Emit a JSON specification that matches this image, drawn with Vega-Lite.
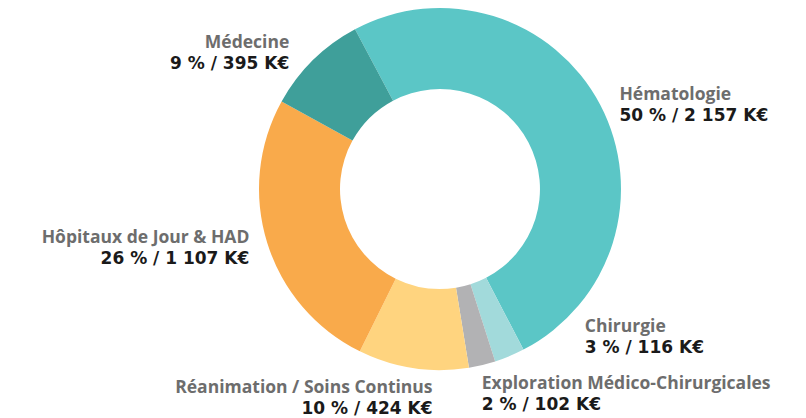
{
  "$schema": "https://vega.github.io/schema/vega-lite/v6.json",
  "autosize": "none",
  "padding": {"left": 74, "top": 0, "right": 0, "bottom": 40},
  "width": 732,
  "height": 378,
  "background": "white",
  "config": {"view": {"stroke": null}},
  "data": {"values": [
    {"cat": "Hématologie", "value": 2157, "ord": 1, "label": "50 % / 2 157 K€"},
    {"cat": "Chirurgie", "value": 116, "ord": 2, "label": "3 % / 116 K€"},
    {"cat": "Exploration Médico-Chirurgicales", "value": 102, "ord": 3, "label": "2 % / 102 K€"},
    {"cat": "Réanimation / Soins Continus", "value": 424, "ord": 4, "label": "10 % / 424 K€"},
    {"cat": "Hôpitaux de Jour & HAD", "value": 1107, "ord": 5, "label": "26 % / 1 107 K€"},
    {"cat": "Médecine", "value": 395, "ord": 6, "label": "9 % / 395 K€"}
  ]},
  "encoding": {
    "theta": {"field": "value", "type": "quantitative", "stack": true, "scale": {"range": [-0.4887, 5.7945]}},
    "order": {"field": "ord", "type": "quantitative"}
  },
  "layer": [
    {
      "mark": {"type": "arc", "radius": 181, "radius2": 100, "stroke": null},
      "encoding": {
        "color": {"field": "cat", "type": "nominal", "legend": null,
          "scale": {"domain": ["Hématologie", "Chirurgie", "Exploration Médico-Chirurgicales", "Réanimation / Soins Continus", "Hôpitaux de Jour & HAD", "Médecine"],
                    "range": ["#5BC6C6", "#A2DADB", "#B2B2B4", "#FFD47F", "#F9AA4B", "#3F9F9A"]}}
      }
    },
    {
      "mark": {"type": "text", "radius": 205, "font": "Open Sans", "fontSize": 17.5, "fontWeight": "bold", "color": "#6D6D6D", "baseline": "middle",
        "align": {"expr": "datum.ord <= 3 ? 'left' : 'right'"},
        "dx": {"expr": "datum.ord == 1 ? -2 : datum.ord == 2 ? 66 : datum.ord == 3 ? -6 : datum.ord == 4 ? 23 : datum.ord == 5 ? 5 : -7"},
        "dy": {"expr": "(datum.ord == 1 ? 12 : datum.ord == 2 ? -40 : datum.ord == 3 || datum.ord == 4 ? 7 : datum.ord == 5 ? -1 : 11) - 11"}},
      "encoding": {"text": {"field": "cat"}}
    },
    {
      "mark": {"type": "text", "radius": 205, "font": "DejaVu Sans", "fontSize": 17, "fontWeight": "bold", "color": "#1A1A1A", "baseline": "middle",
        "align": {"expr": "datum.ord <= 3 ? 'left' : 'right'"},
        "dx": {"expr": "datum.ord == 1 ? -2 : datum.ord == 2 ? 66 : datum.ord == 3 ? -6 : datum.ord == 4 ? 23 : datum.ord == 5 ? 5 : -7"},
        "dy": {"expr": "(datum.ord == 1 ? 12 : datum.ord == 2 ? -40 : datum.ord == 3 || datum.ord == 4 ? 7 : datum.ord == 5 ? -1 : 11) + 10"}},
      "encoding": {"text": {"field": "label"}}
    }
  ]
}
